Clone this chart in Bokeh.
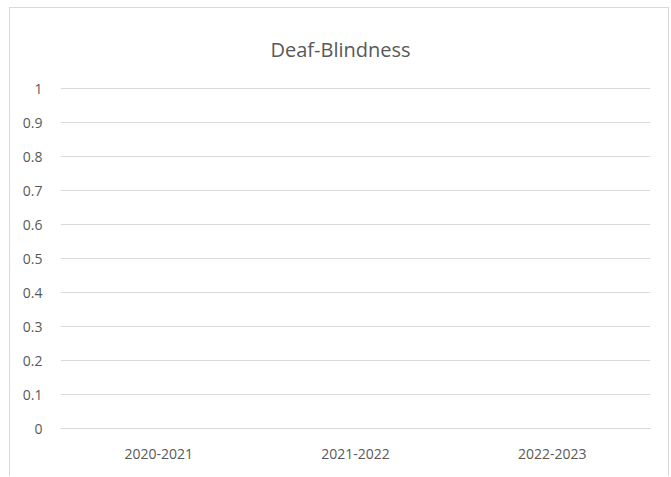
from bokeh.plotting import figure
from bokeh.models import FixedTicker, ColumnDataSource, Range1d
from bokeh.embed import file_html
from bokeh.resources import INLINE

title_text = "Deaf-Blindness"
categories = ["2020-2021", "2021-2022", "2022-2023"]
values = [0, 0, 0]
y_ticks = [0, 0.1, 0.2, 0.3, 0.4, 0.5, 0.6, 0.7, 0.8, 0.9, 1]
y_tick_labels = ["0", "0.1", "0.2", "0.3", "0.4", "0.5", "0.6", "0.7", "0.8", "0.9", "1"]

FONT = "'Open Sans', sans-serif"
GREY = "#595959"
GRID = "#d9d9d9"

p = figure(x_range=categories, y_range=Range1d(0, 1.003), width=660, height=469,
           output_backend="svg", toolbar_location=None,
           min_border_left=50, min_border_right=20, min_border_top=79, min_border_bottom=49)
p.margin = (7, 0, 0, 9)

src = ColumnDataSource(dict(cat=categories, val=values))
p.vbar(x="cat", top="val", width=0.5, source=src, color="#4472c4")

p.title.text = title_text
p.title.align = "left"
p.title.offset = 210
p.title.text_font = FONT
p.title.text_font_size = "20px"
p.title.text_font_style = "normal"
p.title.text_color = GREY
p.title.standoff = 50

p.outline_line_color = None
p.styles = {"border-left": "1px solid #d9d9d9", "border-top": "1px solid #d9d9d9",
            "border-right": "1px solid #d9d9d9"}

p.yaxis.ticker = FixedTicker(ticks=y_ticks)
p.yaxis.major_label_overrides = {t: l for t, l in zip(y_ticks, y_tick_labels)}
p.yaxis.axis_line_color = None
p.yaxis.major_tick_line_color = None
p.yaxis.minor_tick_line_color = None
p.yaxis.major_label_text_font = FONT
p.yaxis.major_label_text_font_size = "14px"
p.yaxis.major_label_text_color = GREY
p.yaxis.major_label_standoff = 12

p.xaxis.axis_line_color = GRID
p.xaxis.major_tick_line_color = None
p.xaxis.minor_tick_line_color = None
p.xaxis.major_label_text_font = FONT
p.xaxis.major_label_text_font_size = "14px"
p.xaxis.major_label_text_color = GREY
p.xaxis.major_label_standoff = 14

p.xgrid.grid_line_color = None
p.ygrid.grid_line_color = GRID
p.ygrid.grid_line_width = 1

open("out.html", "w").write(file_html(p, INLINE))
